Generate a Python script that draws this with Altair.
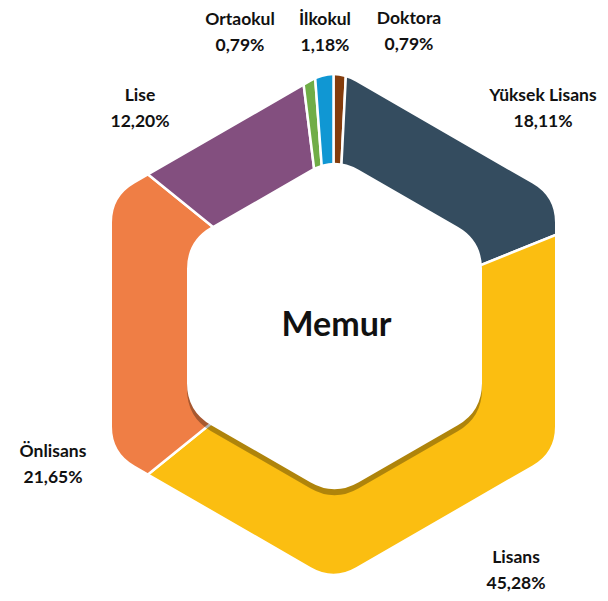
import math
import altair as alt
import pandas as pd

# ---- data -------------------------------------------------------------
categories = ["Doktora", "Yüksek Lisans", "Lisans", "Önlisans", "Lise", "Ortaokul", "İlkokul"]
values = [0.79, 18.11, 45.28, 21.65, 12.20, 0.79, 1.18]
colors = ["#843C0C", "#344C5F", "#FBBE11", "#EF7E45", "#834F7F", "#70AD47", "#1097D3"]
center_title = "Memur"

# label placement (page pixel centre of each label's first line)
label_x = [409, 543, 516, 53, 140, 240, 325]
label_y = [19, 96, 558, 452, 96, 20, 20]

M = 8  # page margin
W, H = 592, 585

# ---- geometry of the hexagonal ring (decoration) -----------------------
OCX, OCY = 333.5 - M, 324.5 - M       # ring centre
OUT_R, OUT_D = 221.5 / math.cos(math.radians(30)), 26
ICX, ICY = 334.5 - M, 326 - M
IN_R, IN_D = 147.5 / math.cos(math.radians(30)), 28


def hex_path(R, d, reverse=False):
    angs = [-90, -30, 30, 90, 150, 210]
    V = [(R * math.cos(math.radians(a)), R * math.sin(math.radians(a))) for a in angs]
    if reverse:
        V = V[::-1]
    n = len(V)
    t = d / R
    parts = []
    for i in range(n):
        vx, vy = V[i]
        px, py = V[i - 1]
        nx, ny = V[(i + 1) % n]
        p1 = (vx + (px - vx) * t, vy + (py - vy) * t)
        p2 = (vx + (nx - vx) * t, vy + (ny - vy) * t)
        parts.append(("M" if i == 0 else "L")
                     + f"{p1[0]:.2f},{p1[1]:.2f} Q{vx:.2f},{vy:.2f} {p2[0]:.2f},{p2[1]:.2f}")
    return " ".join(parts) + " Z"


outer_mask_path = "M-2000,-2000 H2000 V2000 H-2000 Z " + hex_path(OUT_R, OUT_D, reverse=True)
inner_path = hex_path(IN_R, IN_D)

# ---- tables ------------------------------------------------------------
df = pd.DataFrame({
    "cat": categories,
    "value": values,
    "idx": list(range(len(categories))),
})
lab = pd.DataFrame({
    "label": [f"{c}\n{v:.2f}".replace(".", ",") + "%" for c, v in zip(categories, values)],
    "lx": [x - M for x in label_x],
    "ly": [y - M for y in label_y],
})
one = pd.DataFrame({"k": [0]})

# ---- marks -------------------------------------------------------------
ring = alt.Chart(df).mark_arc(
    outerRadius=300, innerRadius=60, stroke="white", strokeWidth=2.5
).encode(
    theta=alt.Theta("value:Q", stack=True),
    order=alt.Order("idx:Q"),
    color=alt.Color("cat:N", scale=alt.Scale(domain=categories, range=colors), legend=None),
    x=alt.value(OCX),
    y=alt.value(OCY),
)

outer_mask = alt.Chart(one).mark_point(
    shape=outer_mask_path, size=4, filled=True, color="white", opacity=1, strokeWidth=0
).encode(x=alt.value(OCX), y=alt.value(OCY))

shadow = alt.Chart(one).mark_point(
    shape=inner_path, size=4, filled=True, color="black", opacity=0.3, strokeWidth=0
).encode(x=alt.value(ICX), y=alt.value(ICY + 6))

inner = alt.Chart(one).mark_point(
    shape=inner_path, size=4, filled=True, color="white", opacity=1, strokeWidth=0
).encode(x=alt.value(ICX), y=alt.value(ICY))

labels = alt.Chart(lab).mark_text(
    font="Lato", fontWeight="bold", fontSize=17.5, lineBreak="\n", lineHeight=26,
    align="center", baseline="middle", color="#111111"
).encode(
    x=alt.X("lx:Q", scale=None),
    y=alt.Y("ly:Q", scale=None),
    text="label:N",
)

title = alt.Chart(one).mark_text(
    font="Lato", fontWeight="bold", fontSize=34, align="center", baseline="middle",
    color="#111111", text=center_title
).encode(x=alt.value(336.5 - M), y=alt.value(326 - M))

chart = alt.layer(ring, outer_mask, shadow, inner, labels, title).properties(
    width=W, height=H, autosize=alt.AutoSizeParams(type="none"), padding=0
).configure_view(strokeWidth=0)

chart.save("out.html", embed_options={"renderer": "svg", "actions": False})
